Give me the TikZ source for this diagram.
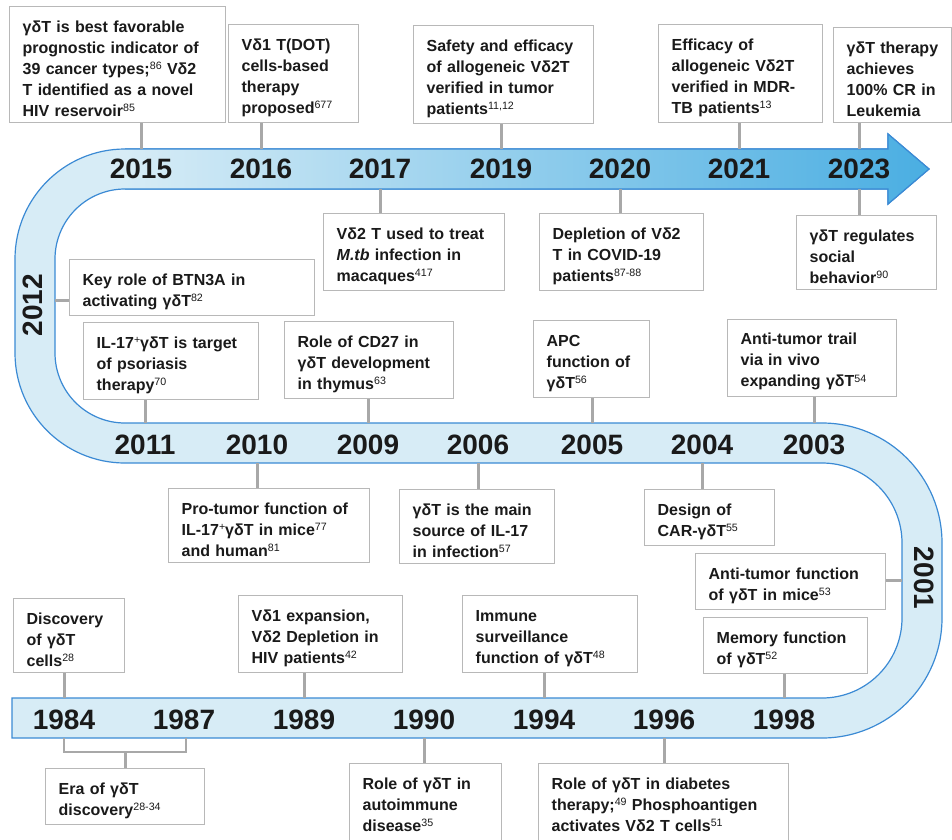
\documentclass[tikz,border=0pt]{standalone}
\usepackage{fontspec}
\setmainfont{Liberation Sans}
\usepackage{xcolor}
\usepackage{tikz}

\definecolor{bandfill}{HTML}{D7ECF6}
\definecolor{banddark}{HTML}{4AAEE2}
\definecolor{bandedge}{HTML}{3B8AD4}
\definecolor{tickgray}{HTML}{A8A8A8}
\definecolor{boxgray}{HTML}{B8B8B8}
\definecolor{inkblack}{HTML}{1A1A1A}

\tikzset{
    event/.style={draw=boxgray, line width=1pt, fill=white, text=inkblack,
        inner xsep=9.75pt, inner ysep=4.5pt, text height=14.6pt, align=left,
        font=\fontsize{12}{15.75}\selectfont\bfseries},
    year/.style={text=inkblack, inner sep=0pt, font=\fontsize{21}{25}\selectfont\bfseries},
    tick/.style={draw=tickgray, line width=2.25pt},
    brace/.style={draw=tickgray, line width=1pt}
}
\newcommand{\refs}[1]{\raisebox{3.6pt}{\fontsize{8}{8}\selectfont\mdseries #1}}

\begin{document}
\begin{tikzpicture}[x=0.75pt, y=-0.75pt]
    \useasboundingbox (0,0) rectangle (952,839);

    % Serpentine band
    \draw[fill=bandfill, draw=bandedge, line width=0.9pt]
        (12,698) -- (822,698) arc[start angle=90, end angle=0, radius=80]
        -- (902,543) arc[start angle=0, end angle=-90, radius=80]
        -- (125,463) arc[start angle=90, end angle=180, radius=110]
        -- (15,259) arc[start angle=180, end angle=270, radius=110]
        -- (888,149) -- (888,134) -- (929,169) -- (888,204) -- (888,189)
        -- (125,189) arc[start angle=270, end angle=180, radius=70]
        -- (55,353) arc[start angle=180, end angle=90, radius=70]
        -- (822,423) arc[start angle=270, end angle=360, radius=120]
        -- (942,618) arc[start angle=0, end angle=90, radius=120]
        -- (12,738) -- cycle;
    \shade[left color=bandfill, right color=banddark]
        (125,149) -- (888,149) -- (888,134) -- (929,169) -- (888,204) -- (888,189) -- (125,189) -- cycle;
    \draw[bandedge, line width=0.9pt]
        (125,149) -- (888,149) -- (888,134) -- (929,169) -- (888,204) -- (888,189) -- (125,189);

    % Band edges
    \coordinate (tTop) at (0,149);
    \coordinate (tBot) at (0,189);
    \coordinate (mTop) at (0,423);
    \coordinate (mBot) at (0,463);
    \coordinate (bTop) at (0,698);
    \coordinate (bBot) at (0,738);
    \coordinate (brk) at (0,752);
    \coordinate (c2012) at (55,300);
    \coordinate (c2001) at (902,580);

    % Years
    \node[year] (y2015) at (141,169) {2015};
    \node[year] (y2016) at (261,169) {2016};
    \node[year] (y2017) at (380,169) {2017};
    \node[year] (y2019) at (501,169) {2019};
    \node[year] (y2020) at (620,169) {2020};
    \node[year] (y2021) at (739,169) {2021};
    \node[year] (y2023) at (859,169) {2023};
    \node[year, rotate=90] (y2012) at (33,305) {2012};
    \node[year] (y2011) at (145,445) {2011};
    \node[year] (y2010) at (257,445) {2010};
    \node[year] (y2009) at (368,445) {2009};
    \node[year] (y2006) at (478,445) {2006};
    \node[year] (y2005) at (592,445) {2005};
    \node[year] (y2004) at (702,445) {2004};
    \node[year] (y2003) at (814,445) {2003};
    \node[year, rotate=-90] (y2001) at (924,578) {2001};
    \node[year] (y1984) at (64,720) {1984};
    \node[year] (y1987) at (184,720) {1987};
    \node[year] (y1989) at (304,720) {1989};
    \node[year] (y1990) at (424,720) {1990};
    \node[year] (y1994) at (544,720) {1994};
    \node[year] (y1996) at (664,720) {1996};
    \node[year] (y1998) at (784,720) {1998};

    % Events above the top band
    \node[event, anchor=south west, text width=142.5pt] (e2015) at (9,123)
        {γδT is best favorable\\prognostic indicator of\\39 cancer types;\refs{86} Vδ2\\T identified as a novel\\HIV reservoir\refs{85}};
    \node[event, anchor=south west, text width=78pt] (e2016) at (228,123)
        {Vδ1 T(DOT)\\cells-based\\therapy\\proposed\refs{677}};
    \node[event, anchor=south west, text width=115.5pt] (e2019) at (413,124)
        {Safety and efficacy\\of allogeneic Vδ2T\\verified in tumor\\patients\refs{11,12}};
    \node[event, anchor=south west, text width=103.5pt] (e2021) at (658,123)
        {Efficacy of\\allogeneic Vδ2T\\verified in MDR-\\TB patients\refs{13}};
    \node[event, anchor=south west, text width=69pt] (e2023a) at (833,123)
        {γδT therapy\\achieves\\100\% CR in\\Leukemia};

    % Events below the top band
    \node[event, anchor=north west, text width=116.25pt] (e2017) at (323,213)
        {Vδ2 T used to treat\\\textit{M.tb} infection in\\macaques\refs{417}};
    \node[event, anchor=north west, text width=103.5pt] (e2020) at (539,213)
        {Depletion of Vδ2\\T in COVID-19\\patients\refs{87-88}};
    \node[event, anchor=north west, text width=85.5pt] (e2023b) at (796,215)
        {γδT regulates\\social\\behavior\refs{90}};
    \node[event, anchor=north west, text width=164.25pt] (e2012) at (69,259)
        {Key role of BTN3A in\\activating γδT\refs{82}};

    % Events above the middle band
    \node[event, anchor=south west, text width=111.75pt] (e2011) at (83,400)
        {IL-17\refs{+}γδT is target\\of psoriasis\\therapy\refs{70}};
    \node[event, anchor=south west, text width=107.25pt] (e2009) at (284,399)
        {Role of CD27 in\\γδT development\\in thymus\refs{63}};
    \node[event, anchor=south west, text width=67.5pt] (e2005) at (533,398)
        {APC\\function of\\γδT\refs{56}};
    \node[event, anchor=south west, text width=107.25pt] (e2003) at (727,397)
        {Anti-tumor trail\\via in vivo\\expanding γδT\refs{54}};

    % Events below the middle band
    \node[event, anchor=north west, text width=131.25pt] (e2010) at (168,488)
        {Pro-tumor function of\\IL-17\refs{+}γδT in mice\refs{77}\\and human\refs{81}};
    \node[event, anchor=north west, text width=96.75pt] (e2006) at (399,489)
        {γδT is the main\\source of IL-17\\in infection\refs{57}};
    \node[event, anchor=north west, text width=78pt] (e2004) at (644,489)
        {Design of\\CAR-γδT\refs{55}};
    \node[event, anchor=north west, text width=123pt] (e2001) at (695,553)
        {Anti-tumor function\\of γδT in mice\refs{53}};

    % Events above the bottom band
    \node[event, anchor=south west, text width=103.5pt] (e1998) at (703,674)
        {Memory function\\of γδT\refs{52}};
    \node[event, anchor=south west, text width=63.75pt] (e1984) at (13,673)
        {Discovery\\of γδT\\cells\refs{28}};
    \node[event, anchor=south west, text width=103.5pt] (e1989) at (238,673)
        {Vδ1 expansion,\\Vδ2 Depletion in\\HIV patients\refs{42}};
    \node[event, anchor=south west, text width=111.75pt] (e1994) at (462,673)
        {Immune\\surveillance\\function of γδT\refs{48}};

    % Events below the bottom band
    \node[event, anchor=north west, text width=99.75pt] (e1987) at (45,768)
        {Era of γδT\\discovery\refs{28-34}};
    \node[event, anchor=north west, text width=94.5pt] (e1990) at (349,763)
        {Role of γδT in\\autoimmune\\disease\refs{35}\rule[-14pt]{0pt}{0pt}};
    \node[event, anchor=north west, text width=168pt] (e1996) at (538,763)
        {Role of γδT in diabetes\\therapy;\refs{49} Phosphoantigen\\activates Vδ2 T cells\refs{51}\rule[-14pt]{0pt}{0pt}};

    % Ticks
    \draw[tick] (y2015 |- e2015.south) -- (y2015 |- tTop);
    \draw[tick] (y2016 |- e2016.south) -- (y2016 |- tTop);
    \draw[tick] (y2019 |- e2019.south) -- (y2019 |- tTop);
    \draw[tick] (y2021 |- e2021.south) -- (y2021 |- tTop);
    \draw[tick] (y2023 |- e2023a.south) -- (y2023 |- tTop);
    \draw[tick] (y2017 |- tBot) -- (y2017 |- e2017.north);
    \draw[tick] (y2020 |- tBot) -- (y2020 |- e2020.north);
    \draw[tick] (y2023 |- tBot) -- (y2023 |- e2023b.north);
    \draw[tick] (c2012) -- (c2012 -| e2012.west);
    \draw[tick] (y2011 |- e2011.south) -- (y2011 |- mTop);
    \draw[tick] (y2009 |- e2009.south) -- (y2009 |- mTop);
    \draw[tick] (y2005 |- e2005.south) -- (y2005 |- mTop);
    \draw[tick] (y2003 |- e2003.south) -- (y2003 |- mTop);
    \draw[tick] (y2010 |- mBot) -- (y2010 |- e2010.north);
    \draw[tick] (y2006 |- mBot) -- (y2006 |- e2006.north);
    \draw[tick] (y2004 |- mBot) -- (y2004 |- e2004.north);
    \draw[tick] (c2001) -- (c2001 -| e2001.east);
    \draw[tick] (y1998 |- e1998.south) -- (y1998 |- bTop);
    \draw[tick] (y1984 |- e1984.south) -- (y1984 |- bTop);
    \draw[tick] (y1989 |- e1989.south) -- (y1989 |- bTop);
    \draw[tick] (y1994 |- e1994.south) -- (y1994 |- bTop);
    \draw[tick] (y1990 |- bBot) -- (y1990 |- e1990.north);
    \draw[tick] (y1996 |- bBot) -- (y1996 |- e1996.north);

    % Era bracket
    \draw[brace] (y1984 |- bBot) -- (y1984 |- brk) -- ([xshift=1.5pt]y1987 |- brk) -- ([xshift=1.5pt]y1987 |- bBot);
    \draw[tick] (e1987.north) -- (e1987.north |- brk);
\end{tikzpicture}
\end{document}
